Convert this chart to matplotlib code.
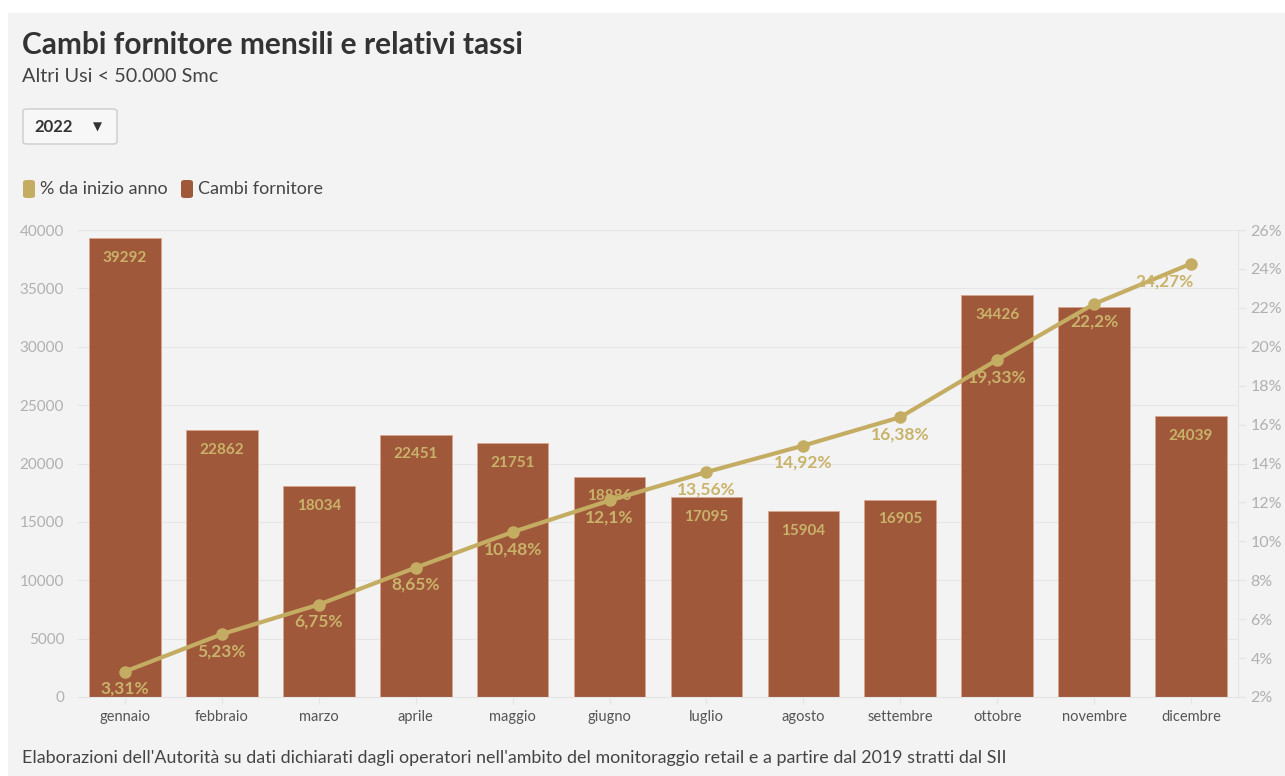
import matplotlib
matplotlib.use("Agg")
import matplotlib.pyplot as plt
from matplotlib.patches import Rectangle, FancyBboxPatch

plt.rcParams['font.family'] = ['Lato', 'DejaVu Sans']

months = ["gennaio", "febbraio", "marzo", "aprile", "maggio", "giugno",
          "luglio", "agosto", "settembre", "ottobre", "novembre", "dicembre"]
cambi = [39292, 22862, 18034, 22451, 21751, 18886, 17095, 15904, 16905, 34426, 33400, 24039]
show_bar_label = [True] * 10 + [False, True]
pct = [3.31, 5.23, 6.75, 8.65, 10.48, 12.1, 13.56, 14.92, 16.38, 19.33, 22.2, 24.27]
pct_labels = ["3,31%", "5,23%", "6,75%", "8,65%", "10,48%", "12,1%", "13,56%",
              "14,92%", "16,38%", "19,33%", "22,2%", "24,27%"]
left_ticks = list(range(0, 40001, 5000))
right_ticks = list(range(2, 27, 2))

W, H = 1285, 776
BAR = "#a0583a"
GOLD = "#c4ad63"
LBL = "#c9b36a"
BG = "#f3f3f3"

fig = plt.figure(figsize=(W / 100, H / 100), dpi=100, facecolor="white")
fig.patches.append(Rectangle((8 / W, 0), 1 - 8 / W, 1 - 13 / H, transform=fig.transFigure,
                             facecolor=BG, edgecolor="none", zorder=-10))

x0, x1, ytop, ybot = 78, 1238, 230, 697
ax = fig.add_axes([x0 / W, 1 - ybot / H, (x1 - x0) / W, (ybot - ytop) / H])
ax.set_facecolor("none")
xs = list(range(len(months)))
ax.bar(xs, cambi, width=0.74, color=BAR, edgecolor="#d9a58e", linewidth=0.6, zorder=2)
ax.set_xlim(-0.485, 11.485)
ax.set_ylim(0, 40000)
ax.set_yticks(left_ticks)
ax.set_yticklabels([str(t) for t in left_ticks], color="#b0b0b0", fontsize=11)
ax.set_xticks(xs)
ax.set_xticklabels(months, color="#555555", fontsize=10.5)
ax.tick_params(axis="y", length=0, pad=10)
ax.tick_params(axis="x", length=5, color="#e4e4e4", pad=4.5)
ax.grid(axis="y", color="#e6e6e6", linewidth=0.8, zorder=0)
for s in ["top", "right", "left"]:
    ax.spines[s].set_visible(False)
ax.spines["bottom"].set_color("#e4e4e4")
for i, (v, show) in enumerate(zip(cambi, show_bar_label)):
    if show:
        ax.annotate(str(v), (i, v), xytext=(0, -9), textcoords="offset points",
                    ha="center", va="top", color=LBL, fontsize=11, fontweight="bold", zorder=4)

ax2 = ax.twinx()
ax2.set_ylim(2, 26)
ax2.set_yticks(right_ticks)
ax2.set_yticklabels([f"{t}%" for t in right_ticks], color="#b0b0b0", fontsize=11.5)
ax2.tick_params(axis="y", length=6, color="#e4e4e4", pad=3)
for s in ["top", "left", "bottom"]:
    ax2.spines[s].set_visible(False)
ax2.spines["right"].set_color("#e4e4e4")
ax2.plot(xs, pct, color=GOLD, linewidth=3, marker="o", markersize=8, zorder=5)
n = len(pct)
for i, (v, t) in enumerate(zip(pct, pct_labels)):
    dx = -19 if i == n - 1 else 0
    ax2.annotate(t, (i, v), xytext=(dx, -12.5), textcoords="offset points",
                 ha="center", va="center", color=LBL, fontsize=12.5, fontweight="bold", zorder=6)

fig.text(22 / W, 1 - 45 / H, "Cambi fornitore mensili e relativi tassi", fontsize=21.5,
         fontweight="bold", color="#333333", va="center", ha="left")
fig.text(22 / W, 1 - 76 / H, "Altri Usi < 50.000 Smc", fontsize=14.3, color="#444444",
         va="center", ha="left")
fig.patches.append(FancyBboxPatch((23 / W, 1 - 144 / H), 94 / W, 35 / H,
                                  boxstyle="round,pad=0,rounding_size=0.003",
                                  transform=fig.transFigure, facecolor="#f7f7f7",
                                  edgecolor="#cccccc", linewidth=1))
fig.text(34 / W, 1 - 127 / H, "2022", fontsize=12, fontweight="bold", color="#333333",
         va="center", ha="left")
fig.text(97 / W, 1 - 127 / H, "\u25BC", fontsize=8.5, color="#333333", va="center",
         ha="center", family="DejaVu Sans")

for xl, col, label in [(23, GOLD, "% da inizio anno"), (181, BAR, "Cambi fornitore")]:
    fig.patches.append(FancyBboxPatch((xl / W, 1 - 198 / H), 12 / W, 18 / H,
                                      boxstyle="round,pad=0,rounding_size=0.003",
                                      transform=fig.transFigure, facecolor=col,
                                      edgecolor="none"))
    fig.text((xl + 17) / W, 1 - 189 / H, label, fontsize=13, color="#444444",
             va="center", ha="left")

fig.text(22 / W, 1 - 758 / H,
         "Elaborazioni dell'Autorità su dati dichiarati dagli operatori nell'ambito del monitoraggio retail e a partire dal 2019 stratti dal SII",
         fontsize=12.85, color="#444444", va="center", ha="left")

fig.savefig("out.png", dpi=100, facecolor="white")
